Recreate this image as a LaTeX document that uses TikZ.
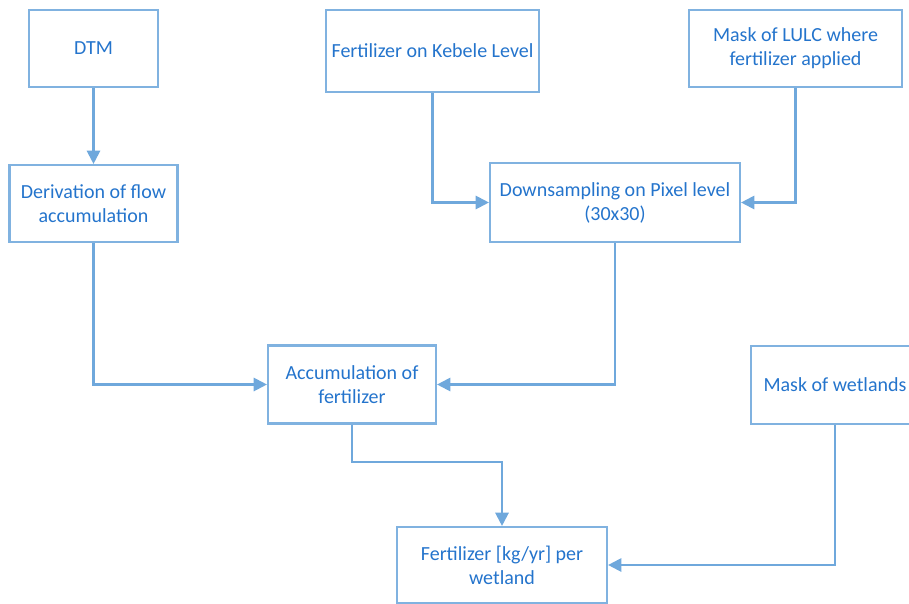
\documentclass[tikz,border=0pt]{standalone}
\usepackage{fontspec}
\setmainfont{Carlito}
\usetikzlibrary{arrows.meta}
\definecolor{boxline}{RGB}{128,178,224}
\definecolor{conline}{RGB}{111,168,220}
\definecolor{txt}{RGB}{36,116,204}
\tikzset{
  box/.style={draw=boxline, line width=1.6pt, rectangle, align=center, text=txt,
    font=\fontsize{15pt}{18pt}\selectfont, inner sep=0pt},
  con/.style={draw=conline, line width=1.6pt, -{Triangle[length=10pt,width=10pt]}}
}
\begin{document}
\begin{tikzpicture}[x=0.75pt,y=-0.75pt]
\useasboundingbox (0,0) rectangle (909,603);
\clip (0,0) rectangle (909,603);
\node[box, minimum width=129*0.75pt, minimum height=77*0.75pt] (dtm) at (93.5,48.5) {DTM};
\node[box, minimum width=213*0.75pt, minimum height=82*0.75pt] (keb) at (432.5,51) {Fertilizer on Kebele Level};
\node[box, minimum width=213*0.75pt, minimum height=77*0.75pt] (lulc) at (795.5,48.5) {Mask of LULC where\\fertilizer applied};
\node[box, minimum width=168*0.75pt, minimum height=77*0.75pt] (der) at (93.5,203.5) {Derivation of flow\\accumulation};
\node[box, minimum width=250*0.75pt, minimum height=79*0.75pt] (down) at (615,202.5) {Downsampling on Pixel level\\(30x30)};
\node[box, minimum width=168*0.75pt, minimum height=78*0.75pt] (acc) at (352,384.5) {Accumulation of\\fertilizer};
\node[box, minimum width=168*0.75pt, minimum height=78*0.75pt] (wet) at (835,385) {Mask of wetlands};
\node[box, minimum width=210*0.75pt, minimum height=76*0.75pt] (fert) at (502,565) {Fertilizer [kg/yr] per\\wetland};
\coordinate (bend) at (352,462);
\draw[con] (dtm.south) -- (der.north);
\draw[con] (keb.south) |- (down.west);
\draw[con] (lulc.south) |- (down.east);
\draw[con] (der.south) |- (acc.west);
\draw[con] (down.south) |- (acc.east);
\draw[con] (acc.south) -- (bend) -| (fert.north);
\draw[con] (wet.south) |- (fert.east);
\end{tikzpicture}
\end{document}
